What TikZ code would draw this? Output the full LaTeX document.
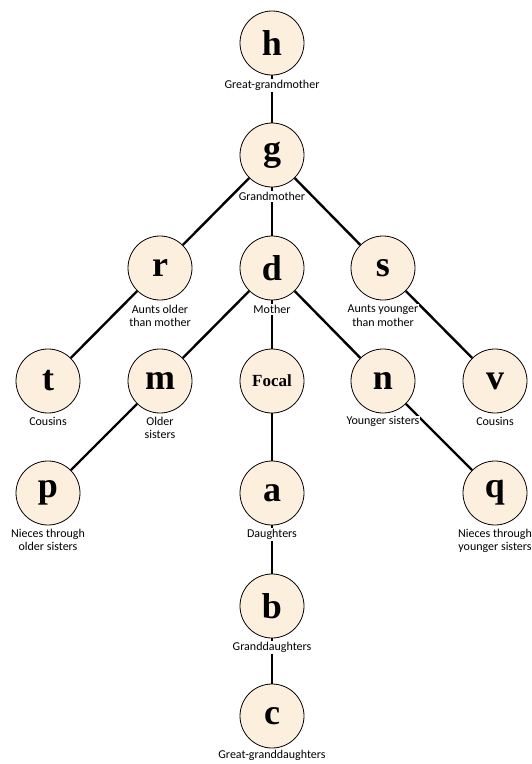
\documentclass[tikz,border=0pt]{standalone}
\usepackage{fontspec}
\setmainfont{Liberation Serif}
\newfontfamily\labelfont{Carlito}
\definecolor{peach}{RGB}{253,239,222}
\begin{document}
\begin{tikzpicture}[x=1pt,y=-1pt,
  person/.style={circle,draw=black,line width=0.8pt,fill=peach,minimum size=64pt,inner sep=0pt,font=\fontsize{36}{36}\selectfont\bfseries},
  focalstyle/.style={person,font=\fontsize{17}{17}\selectfont\bfseries},
  tag/.style={anchor=north,fill=white,inner sep=1pt,align=center,font=\labelfont\fontsize{12}{13.3}\selectfont},
  link/.style={line width=2.4pt,black}]
\useasboundingbox (0,0) rectangle (532,764);
% people
\node[person] (h) at (272,43) {h};
\node[person] (g) at (272,155) {g};
\node[person] (r) at (160,268) {r};
\node[person] (d) at (272,268) {d};
\node[person] (s) at (383,268) {s};
\node[person] (t) at (48,381) {t};
\node[person] (m) at (160,381) {m};
\node[focalstyle] (f) at (272,381) {Focal};
\node[person] (n) at (383,381) {n};
\node[person] (v) at (495,381) {v};
\node[person] (p) at (48,493) {p};
\node[person] (a) at (272,493) {a};
\node[person] (q) at (495,493) {q};
\node[person] (b) at (272,606) {b};
\node[person] (c) at (272,716) {c};
% links
\draw[link] (h) -- (g);
\draw[link] (g) -- (r);
\draw[link] (g) -- (d);
\draw[link] (g) -- (s);
\draw[link] (r) -- (t);
\draw[link] (s) -- (v);
\draw[link] (d) -- (m);
\draw[link] (d) -- (f);
\draw[link] (d) -- (n);
\draw[link] (m) -- (p);
\draw[link] (n) -- (q);
\draw[link] (f) -- (a);
\draw[link] (a) -- (b);
\draw[link] (b) -- (c);
% labels
\node[tag] (lh) at (272,79) {Great-grandmother};
\node[tag] (lg) at (272,191) {Grandmother};
\node[tag] (lr) at (160,304) {Aunts older\\than mother};
\node[tag] (ld) at (272,304) {Mother};
\node[tag] (ls) at (383,304) {Aunts younger\\than mother};
\node[tag] (lt) at (48,416) {Cousins};
\node[tag] (lm) at (160,416) {Older\\sisters};
\node[tag,inner sep=0.5pt] (ln) at (383,416) {Younger sisters};
\node[tag] (lv) at (495,416) {Cousins};
\node[tag] (lp) at (48,528) {Nieces through\\older sisters};
\node[tag] (la) at (272,528) {Daughters};
\node[tag] (lq) at (495,528) {Nieces through\\younger sisters};
\node[tag] (lb) at (272,641) {Granddaughters};
\node[tag] (lc) at (272,749) {Great-granddaughters};
\end{tikzpicture}
\end{document}
